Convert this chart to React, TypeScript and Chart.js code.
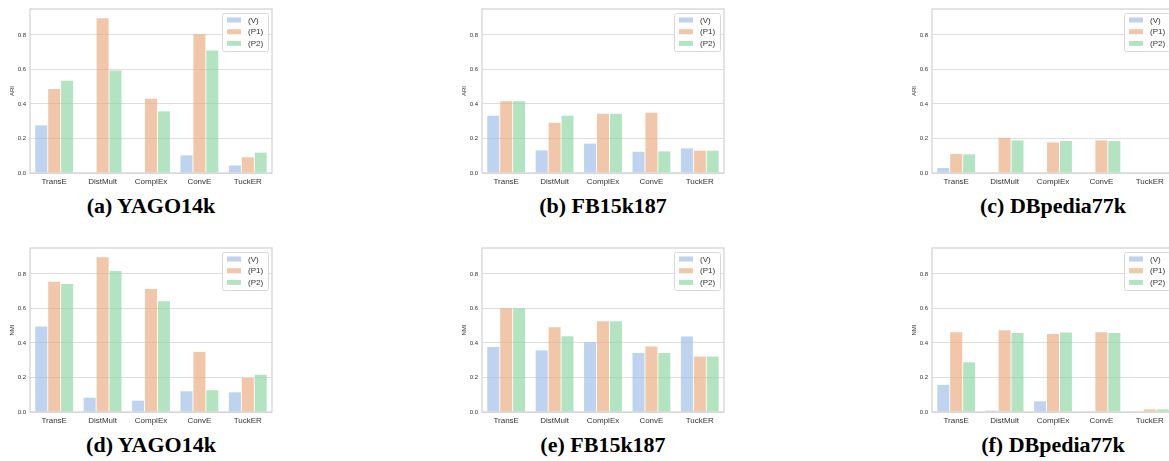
import React, { useEffect, useRef } from "react";
import { Chart, registerables } from "chart.js";
Chart.register(...registerables);

const categories = ["TransE", "DistMult", "ComplEx", "ConvE", "TuckER"];
const seriesNames = ["(V)", "(P1)", "(P2)"];
const yTickValues = [0, 0.2, 0.4, 0.6, 0.8];
const yMax = 0.95;

// (a) ARI YAGO14k
const ariYagoV = [0.276, 0, 0, 0.102, 0.044];
const ariYagoP1 = [0.486, 0.896, 0.43, 0.804, 0.091];
const ariYagoP2 = [0.534, 0.594, 0.357, 0.709, 0.118];
// (b) ARI FB15k187
const ariFbV = [0.332, 0.131, 0.17, 0.123, 0.143];
const ariFbP1 = [0.416, 0.291, 0.343, 0.349, 0.129];
const ariFbP2 = [0.416, 0.332, 0.343, 0.125, 0.129];
// (c) ARI DBpedia77k
const ariDbV = [0.029, 0, 0, 0, 0];
const ariDbP1 = [0.11, 0.204, 0.177, 0.189, 0];
const ariDbP2 = [0.108, 0.189, 0.185, 0.185, 0];
// (d) NMI YAGO14k
const nmiYagoV = [0.495, 0.083, 0.066, 0.12, 0.114];
const nmiYagoP1 = [0.754, 0.897, 0.713, 0.348, 0.197];
const nmiYagoP2 = [0.742, 0.817, 0.642, 0.126, 0.216];
// (e) NMI FB15k187
const nmiFbV = [0.377, 0.357, 0.404, 0.342, 0.437];
const nmiFbP1 = [0.601, 0.491, 0.526, 0.379, 0.321];
const nmiFbP2 = [0.601, 0.439, 0.526, 0.342, 0.321];
// (f) NMI DBpedia77k
const nmiDbV = [0.157, 0.008, 0.062, 0.004, 0.004];
const nmiDbP1 = [0.462, 0.473, 0.452, 0.462, 0.015];
const nmiDbP2 = [0.288, 0.458, 0.46, 0.458, 0.015];

const barColors = ["rgba(161,192,232,0.7)", "rgba(236,174,131,0.7)", "rgba(145,216,166,0.7)"];

const PLOT_W = 242;
const PLOT_H = 164;
const Y_AXIS_W = 30;
const X_AXIS_H = 20;
const PAD_TOP = 9;
const PAD_RIGHT = 2;

const panels = [
  { id: "a", ylabel: "ARI", series: [ariYagoV, ariYagoP1, ariYagoP2], plotLeft: 30, plotTop: 9, caption: "(a) YAGO14k" },
  { id: "b", ylabel: "ARI", series: [ariFbV, ariFbP1, ariFbP2], plotLeft: 482, plotTop: 9, caption: "(b) FB15k187" },
  { id: "c", ylabel: "ARI", series: [ariDbV, ariDbP1, ariDbP2], plotLeft: 932, plotTop: 9, caption: "(c) DBpedia77k" },
  { id: "d", ylabel: "NMI", series: [nmiYagoV, nmiYagoP1, nmiYagoP2], plotLeft: 30, plotTop: 248, caption: "(d) YAGO14k" },
  { id: "e", ylabel: "NMI", series: [nmiFbV, nmiFbP1, nmiFbP2], plotLeft: 482, plotTop: 248, caption: "(e) FB15k187" },
  { id: "f", ylabel: "NMI", series: [nmiDbV, nmiDbP1, nmiDbP2], plotLeft: 932, plotTop: 248, caption: "(f) DBpedia77k" },
];

const framePlugin = {
  id: "frame",
  afterDatasetsDraw(chart: any) {
    const { ctx, chartArea } = chart;
    ctx.save();
    ctx.strokeStyle = "#d2d2d2";
    ctx.lineWidth = 1.25;
    ctx.strokeRect(chartArea.left, chartArea.top, chartArea.right - chartArea.left, chartArea.bottom - chartArea.top);
    ctx.restore();
  },
};

const legendPlugin = {
  id: "boxLegend",
  afterDraw(chart: any) {
    const { ctx, chartArea } = chart;
    const bw = 46;
    const bh = 38;
    const bx = chartArea.right - 50;
    const by = chartArea.top + 4;
    ctx.save();
    ctx.fillStyle = "rgba(255,255,255,0.85)";
    ctx.strokeStyle = "#d8d8d8";
    ctx.lineWidth = 1;
    ctx.beginPath();
    ctx.roundRect(bx + 0.5, by + 0.5, bw, bh, 2);
    ctx.fill();
    ctx.stroke();
    const rows = [7, 18.7, 30.4];
    chart.data.datasets.forEach((ds: any, i: number) => {
      const cy = by + rows[i];
      ctx.fillStyle = ds.backgroundColor;
      ctx.fillRect(bx + 5, cy - 2.5, 14, 5);
      ctx.fillStyle = "#333";
      ctx.font = "8px 'Liberation Sans', Arial, sans-serif";
      ctx.textBaseline = "middle";
      ctx.textAlign = "left";
      ctx.fillText(ds.label, bx + 26, cy + 0.5);
    });
    ctx.restore();
  },
};

function Panel({ ylabel, series, plotLeft, plotTop }: any) {
  const ref = useRef<HTMLCanvasElement | null>(null);
  const W = Y_AXIS_W + PLOT_W + PAD_RIGHT;
  const H = PAD_TOP + PLOT_H + X_AXIS_H;
  useEffect(() => {
    if (!ref.current) return;
    const chart = new Chart(ref.current, {
      type: "bar",
      data: {
        labels: categories,
        datasets: series.map((s: number[], i: number) => ({
          label: seriesNames[i],
          data: s,
          backgroundColor: barColors[i],
          borderWidth: 0,
          categoryPercentage: 0.8,
          barPercentage: 0.93,
        })),
      },
      options: {
        responsive: false,
        animation: false,
        devicePixelRatio: 1,
        layout: { padding: { top: PAD_TOP, right: PAD_RIGHT, left: 0, bottom: 0 } },
        plugins: { legend: { display: false }, tooltip: { enabled: false } },
        scales: {
          x: {
            grid: { display: false, drawTicks: false },
            border: { display: false },
            ticks: {
              padding: 4,
              color: "#333",
              font: { family: "'Liberation Sans', Arial, sans-serif", size: 8 },
              maxRotation: 0,
              autoSkip: false,
            },
            afterFit: (axis: any) => {
              axis.height = X_AXIS_H;
            },
          },
          y: {
            min: 0,
            max: yMax,
            grid: { color: "#dedede", lineWidth: 1, drawTicks: false },
            border: { display: false },
            afterBuildTicks: (axis: any) => {
              axis.ticks = yTickValues.map((v) => ({ value: v }));
            },
            ticks: {
              padding: 4,
              color: "#333",
              font: { family: "'Liberation Sans', Arial, sans-serif", size: 6 },
              callback: (v: any) => Number(v).toFixed(1),
            },
            title: {
              display: true,
              text: ylabel,
              color: "#333",
              font: { family: "'Liberation Sans', Arial, sans-serif", size: 6 },
              padding: { top: 9, bottom: 0 },
            },
            afterFit: (axis: any) => {
              axis.width = Y_AXIS_W;
            },
          },
        },
      },
      plugins: [framePlugin, legendPlugin],
    });
    return () => chart.destroy();
  }, []);
  return (
    <canvas
      ref={ref}
      width={W}
      height={H}
      style={{ position: "absolute", left: plotLeft - Y_AXIS_W, top: plotTop - PAD_TOP, width: W, height: H }}
    />
  );
}

export default function App() {
  return (
    <div
      style={{
        position: "fixed",
        left: 0,
        top: 0,
        width: 1169,
        height: 461,
        overflow: "hidden",
        background: "#fff",
      }}
    >
      {panels.map((p) => (
        <React.Fragment key={p.id}>
          <Panel ylabel={p.ylabel} series={p.series} plotLeft={p.plotLeft} plotTop={p.plotTop} />
          <div
            style={{
              position: "absolute",
              left: p.plotLeft + PLOT_W / 2 - 150,
              width: 300,
              top: p.plotTop + PLOT_H + 33 - 13,
              height: 26,
              lineHeight: "26px",
              textAlign: "center",
              fontFamily: "'Liberation Serif', 'DejaVu Serif', serif",
              fontWeight: "bold",
              fontSize: 22,
              color: "#000",
              whiteSpace: "nowrap",
            }}
          >
            {p.caption}
          </div>
        </React.Fragment>
      ))}
    </div>
  );
}
